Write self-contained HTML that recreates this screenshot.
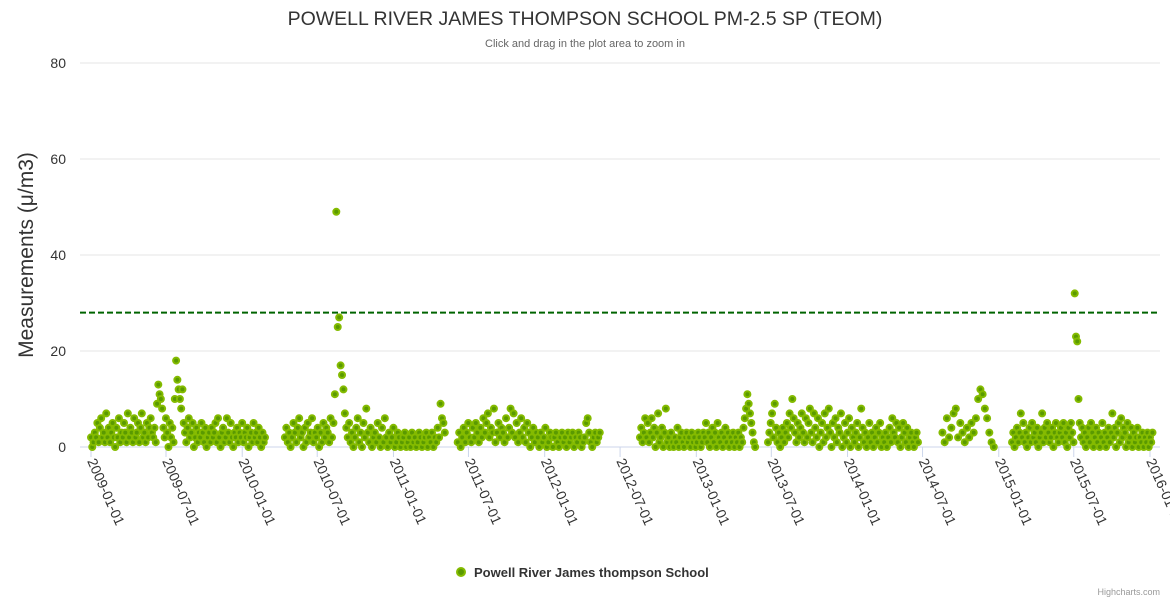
<!DOCTYPE html>
<html><head><meta charset="utf-8"><style>
html,body{margin:0;padding:0;background:#fff;}
svg{display:block;font-family:"Liberation Sans",sans-serif;}
</style></head><body>
<svg id="chart" width="1170" height="600">
<text x="585" y="25" text-anchor="middle" font-size="19.5" fill="#333">POWELL RIVER JAMES THOMPSON SCHOOL PM-2.5 SP (TEOM)</text>
<text x="585" y="47" text-anchor="middle" font-size="11" fill="#666">Click and drag in the plot area to zoom in</text>
<text transform="translate(33,255) rotate(-90)" text-anchor="middle" font-size="21" fill="#333">Measurements (μ/m3)</text>
<g id="grid"></g>
<g id="yticks"></g>
<g id="xticks"></g>
<g id="points"></g>
<g id="plotline"></g>
<g>
<circle cx="461" cy="572" r="4" fill="#5a9a00" stroke="#84bb00" stroke-width="2"/>
<text x="474" y="577" font-size="13" font-weight="bold" fill="#333">Powell River James thompson School</text>
</g>
<text x="1160" y="595" text-anchor="end" font-size="9" fill="#999">Highcharts.com</text>
</svg>
<script>
const yTicks=[0,20,40,60,80];
const xTickLabels=['2009-01-01','2009-07-01','2010-01-01','2010-07-01','2011-01-01','2011-07-01','2012-01-01','2012-07-01','2013-01-01','2013-07-01','2014-01-01','2014-07-01','2015-01-01','2015-07-01','2016-01-01'];
const thresholdValue=28;
const segStarts=['2009-01-01','2010-04-14','2011-06-05','2012-08-18','2013-06-23','2014-08-18','2015-02-02'];
const segEnds=['2010-02-25','2011-05-05','2012-05-13','2013-05-23','2014-06-20','2014-12-20','2016-01-07'];
const seg1=[2,0,1,3,2,5,1,4,6,2,3,1,7,2,4,1,3,5,2,0,4,2,6,1,3,2,5,3,1,7,2,4,3,1,6,2,3,5,1,4,7,2,3,1,5,2,4,6,3,2,4,1,9,13,11,10,8,4,2,6,3,0,5,2,4,1,10,18,14,12,10,8,12,5,3,1,4,6,2,3,5,0,2,4,1,3,2,5,3,1,4,0,2,3,1,4,2,3,5,1,6,2,0,3,4,1,2,6,3,1,5,2,0,3,2,4,1,3,2,5,1,3,2,4,0,2,3,1,5,2,3,1,4,2,0,3,1,2];
const seg2=[2,4,1,3,0,2,5,3,1,4,6,2,3,0,4,1,5,2,3,6,1,3,2,4,0,3,1,5,2,4,3,1,6,2,5,11,49,25,27,17,15,12,7,4,2,5,1,3,0,2,4,6,1,3,0,5,2,8,3,1,4,0,2,3,1,5,2,0,4,1,6,2,0,3,1,2,4,0,1,3,2,0,1,2,3,0,1,2,0,3,1,2,0,1,3,2,0,1,2,3,0,2,1,3,0,2,1,4,2,9,6,5,3];
const seg3=[1,3,0,2,4,1,3,5,2,1,4,2,5,3,1,4,2,6,3,5,7,2,4,3,8,1,3,5,2,4,3,1,6,2,4,8,3,7,2,5,1,3,6,2,4,1,5,3,0,2,4,1,3,2,0,3,1,2,4,0,1,3,2,0,2,3,1,0,2,3,1,2,0,3,1,2,3,0,2,1,3,2,0,1,2,5,6,3,1,0,2,3,1,2,3];
const seg4=[2,4,1,3,6,2,5,1,3,6,2,4,0,3,7,1,2,4,0,3,8,1,2,0,3,1,0,2,1,4,0,2,3,1,0,2,3,1,2,0,3,1,2,0,1,3,2,0,1,3,2,5,1,3,0,2,4,1,3,0,5,2,1,3,0,2,4,1,3,0,2,1,3,0,2,1,3,0,2,1,4,6,8,11,9,7,5,3,1,0];
const seg5=[1,3,5,7,2,9,4,1,3,0,2,4,1,3,5,2,7,4,10,6,3,1,5,2,4,7,3,1,6,2,5,8,3,1,7,4,2,6,0,3,5,1,7,2,4,8,3,0,5,2,6,1,4,3,7,0,2,5,1,3,6,0,4,2,1,3,5,0,2,8,4,1,3,0,2,5,1,3,0,2,4,1,3,5,0,2,1,3,0,2,4,1,6,3,2,5,1,4,0,2,5,3,1,4,0,2,3,1,0,2,3,1];
const seg6=[3,1,6,2,4,7,8,2,5,3,1,4,2,5,3,6,10,12,11,8,6,3,1,0];
const seg7=[1,3,0,2,4,1,3,7,2,5,1,3,0,2,4,1,5,2,3,1,4,0,2,3,7,1,4,2,5,3,1,2,4,0,3,5,2,1,3,4,2,5,1,3,0,4,2,5,3,1,32,23,22,10,5,2,4,1,3,0,2,4,1,5,3,0,2,4,1,3,0,2,5,1,3,0,2,4,1,3,7,2,4,0,3,5,1,6,2,4,3,0,5,1,2,4,0,3,1,2,4,0,2,1,3,0,2,1,3,0,2,1,3];
const segValues=[seg1,seg2,seg3,seg4,seg5,seg6,seg7];

const NS='http://www.w3.org/2000/svg';
const plot={l:80,r:1160,t:63,b:447};
const t0=Date.parse('2009-01-01'),t1=Date.parse('2016-01-01');
const xpx=91,xpx1=1150;
function xScale(ts){return xpx+(ts-t0)/(t1-t0)*(xpx1-xpx);}
function yScale(v){return plot.b-v/80*(plot.b-plot.t);}
function mk(tag,attrs,parent){const e=document.createElementNS(NS,tag);for(const k in attrs)e.setAttribute(k,attrs[k]);parent.appendChild(e);return e;}

const grid=document.getElementById('grid'),yt=document.getElementById('yticks');
yTicks.forEach(v=>{
  const y=yScale(v);
  const ln=mk('line',{x1:plot.l,x2:plot.r,y1:y,y2:y,stroke:v===0?'#ccd6eb':'#e6e6e6','stroke-width':1},grid);
  
  
  const tx=mk('text',{x:66,y:y+5,'text-anchor':'end','font-size':14,fill:'#333'},yt);
  tx.textContent=v;
  
  
});
const xt=document.getElementById('xticks');
xTickLabels.forEach(lab=>{
  const x=xScale(Date.parse(lab));
  const tk=mk('line',{x1:x,x2:x,y1:plot.b,y2:plot.b+10,stroke:'#ccd6eb'},xt);
  
  
  const tx=mk('text',{transform:`translate(${x-4},${plot.b+14}) rotate(66)`,'font-size':14,fill:'#333'},xt);
  tx.textContent=lab;
  
  
});
const pts=document.getElementById('points');
segValues.forEach((vals,si)=>{
  const a=Date.parse(segStarts[si]),b=Date.parse(segEnds[si]);
  vals.forEach((v,i)=>{
    const ts=a+(b-a)*i/(vals.length-1);
    const c=mk('circle',{cx:xScale(ts),cy:yScale(v),r:3,fill:'#5a9a00',stroke:'#84bb00','stroke-width':2},pts);
    
    
  });
});
const pl=document.getElementById('plotline');
const yl=yScale(thresholdValue);
const l=mk('line',{x1:plot.l,x2:plot.r,y1:yl,y2:yl,stroke:'#006400','stroke-width':2,'stroke-dasharray':'6,3'},pl);


</script>
</body></html>
